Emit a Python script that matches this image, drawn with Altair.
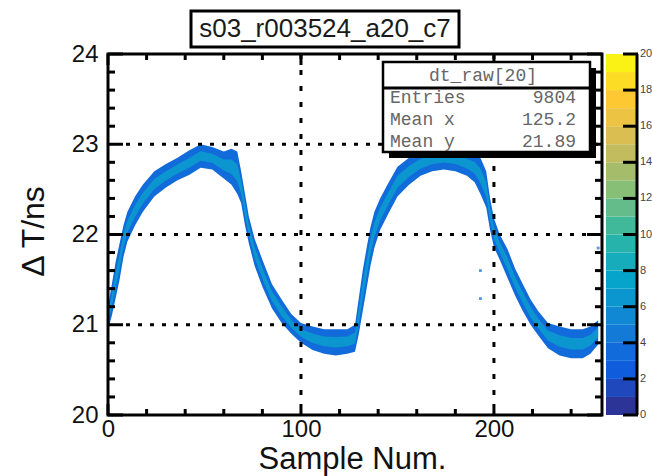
import altair as alt
import pandas as pd

# ---- data ----
sample_x = [0, 2, 4, 6, 8, 10, 14, 18, 24, 30, 36, 42, 48, 54, 60, 64, 67, 69, 71, 73, 76, 80, 85, 90, 95,
            100, 106, 112, 118, 124, 128, 130, 132, 134, 136, 138, 141, 145, 150, 156, 162, 168, 174, 180,
            186, 190, 193, 196, 198, 200, 203, 207, 211, 215, 219, 223, 228, 234, 240, 246, 250, 254]
band_lo = [20.95, 21.1, 21.3, 21.5, 21.75, 21.92, 22.1, 22.25, 22.42, 22.52, 22.6, 22.66, 22.74, 22.72, 22.62,
           22.55, 22.45, 22.35, 22.1, 21.9, 21.65, 21.42, 21.18, 21.02, 20.9,
           20.8, 20.72, 20.68, 20.66, 20.68, 20.7, 20.9, 21.15, 21.4, 21.65, 21.85, 22.05, 22.22, 22.42, 22.55,
           22.65, 22.7, 22.72, 22.7, 22.65, 22.58, 22.45, 22.3, 22.05, 21.86, 21.72, 21.52, 21.32, 21.15, 21.0,
           20.88, 20.74, 20.66, 20.63, 20.63, 20.68, 20.78]
band_hi = [21.2, 21.45, 21.7, 21.9, 22.1, 22.25, 22.42, 22.55, 22.7, 22.78, 22.85, 22.93, 23.0, 22.97, 22.92,
           22.95, 22.92, 22.7, 22.45, 22.2, 21.95, 21.72, 21.45, 21.28, 21.12,
           21.02, 20.98, 20.95, 20.95, 20.95, 21.0, 21.3, 21.6, 21.85, 22.08, 22.25, 22.4, 22.56, 22.75, 22.85,
           22.92, 22.96, 22.98, 22.97, 22.92, 22.9, 22.85, 22.7, 22.4, 22.18, 22.0, 21.84, 21.62, 21.45, 21.28,
           21.15, 21.02, 20.98, 20.95, 20.95, 20.98, 21.05]
stray_x = [193, 193, 254]
stray_y = [21.6, 21.29, 21.85]
count_outer = 3.5
count_core = 6.5

y_major = [20, 21, 22, 23, 24]
y_minor = [20.2, 20.4, 20.6, 20.8, 21.2, 21.4, 21.6, 21.8, 22.2, 22.4, 22.6, 22.8, 23.2, 23.4, 23.6, 23.8]
x_major = [0, 100, 200]
x_minor = [20, 40, 60, 80, 120, 140, 160, 180, 220, 240]
grid_y = [21, 22, 23]
grid_x = [100, 200]
cb_levels = list(range(20))
cb_ticks = [0, 2, 4, 6, 8, 10, 12, 14, 16, 18, 20]
kbird = ["#352a87", "#0f5cdd", "#1481d6", "#06a4ca", "#2eb7a4", "#87bf77", "#d1bb59", "#fec832", "#f9fb0e"]
kbird_stops = [0, 2.5, 5, 7.5, 10, 12.5, 15, 17.5, 20]

title_text = "s03_r003524_a20_c7"
stats_header = "dt_raw[20]"
stats_labels = ["Entries", "Mean x", "Mean y"]
stats_values = ["9804", "125.2", "21.89"]

W, H = 494, 361
FONT = "Liberation Sans"

xs = alt.Scale(domain=[0, 256], nice=False, zero=False)
ys = alt.Scale(domain=[20, 24], nice=False, zero=False)
cs = alt.Scale(domain=kbird_stops, range=kbird, interpolate="rgb")

x_axis = alt.Axis(values=x_major, format="d", ticks=False, tickSize=0, domain=False, grid=False,
                  labelFont=FONT, labelFontSize=24, labelColor="#111", labelPadding=2, labelFlush=False,
                  labelOverlap=False, title="Sample Num.", titleFont=FONT, titleFontSize=31,
                  titleFontWeight="normal", titleColor="#111", titleX=244, titleY=53,
                  titleBaseline="alphabetic", titleAlign="center")
y_axis = alt.Axis(values=y_major, format="d", ticks=False, tickSize=0, domain=False, grid=False,
                  labelFont=FONT, labelFontSize=24, labelColor="#111", labelPadding=10, labelFlush=False,
                  labelOverlap=False, title="Δ T/ns", titleFont=FONT, titleFontSize=32,
                  titleFontWeight="normal", titleColor="#111", titleAngle=270, titleX=-65, titleY=177,
                  titleBaseline="alphabetic", titleAlign="center")


def X(field):
    return alt.X(field, scale=xs, axis=x_axis)


def Y(field):
    return alt.Y(field, scale=ys, axis=y_axis)


band = pd.DataFrame({"x": sample_x, "lo": band_lo, "hi": band_hi})
band["clo"] = band["lo"] + 0.3 * (band["hi"] - band["lo"])
band["chi"] = band["hi"] - 0.3 * (band["hi"] - band["lo"])
band["c_out"] = count_outer
band["c_core"] = count_core

outer = alt.Chart(band).mark_area(interpolate="linear").encode(
    x=X("x:Q"), y=Y("lo:Q"), y2="hi:Q",
    color=alt.Color("c_out:Q", scale=cs, legend=None),
)
core = alt.Chart(band).mark_area(interpolate="linear").encode(
    x=X("x:Q"), y=Y("clo:Q"), y2="chi:Q",
    color=alt.Color("c_core:Q", scale=cs, legend=None),
)
stray_df = pd.DataFrame({"x": stray_x, "y": stray_y, "c": [count_outer] * len(stray_x)})
stray = alt.Chart(stray_df).mark_square(size=8).encode(
    x=X("x:Q"), y=Y("y:Q"),
    color=alt.Color("c:Q", scale=cs, legend=None),
)

# grid (dotted, drawn over the data)
gy = alt.Chart(pd.DataFrame({"g": grid_y})).mark_rule(color="black", strokeWidth=3, strokeDash=[4, 8]).encode(
    y=Y("g:Q"), x=alt.value(18), x2=alt.value(W))
gx = alt.Chart(pd.DataFrame({"g": grid_x})).mark_rule(color="black", strokeWidth=3, strokeDash=[5, 11]).encode(
    x=X("g:Q"), y=alt.value(0), y2=alt.value(H - 12))


def yticks(vals, length):
    d = pd.DataFrame({"t": vals})
    left = alt.Chart(d).mark_rule(color="black", strokeWidth=3).encode(
        y=Y("t:Q"), x=alt.value(0), x2=alt.value(length))
    right = alt.Chart(d).mark_rule(color="black", strokeWidth=3).encode(
        y=Y("t:Q"), x=alt.value(W - length), x2=alt.value(W))
    return [left, right]


def xticks(vals, length):
    d = pd.DataFrame({"t": vals})
    bot = alt.Chart(d).mark_rule(color="black", strokeWidth=3).encode(
        x=X("t:Q"), y=alt.value(H - length), y2=alt.value(H))
    top = alt.Chart(d).mark_rule(color="black", strokeWidth=3).encode(
        x=X("t:Q"), y=alt.value(0), y2=alt.value(length))
    return [bot, top]


ticks = yticks(y_major, 15) + yticks(y_minor, 7) + xticks(x_major, 11) + xticks(x_minor, 6)

one = pd.DataFrame({"a": [0]})
frame = alt.Chart(one).mark_rect(filled=False, stroke="black", strokeWidth=3).encode(
    x=alt.value(0), x2=alt.value(W), y=alt.value(0), y2=alt.value(H))

# colour bar (same colour scale, placed to the right of the frame)
cb = alt.Chart(pd.DataFrame({"k": cb_levels})).transform_calculate(
    lo="20 + datum.k / 5", hi="20 + (datum.k + 1) / 5", c="datum.k + 0.5"
).mark_rect().encode(
    y=Y("lo:Q"), y2="hi:Q",
    x=alt.value(498), x2=alt.value(529),
    color=alt.Color("c:Q", scale=cs, legend=None),
)
cbt_df = pd.DataFrame({"v": cb_ticks})
cb_tick = alt.Chart(cbt_df).transform_calculate(p="20 + datum.v / 5").mark_rule(
    color="black", strokeWidth=3).encode(
    y=Y("p:Q"), x=alt.value(515), x2=alt.value(530))
cb_line = alt.Chart(one).mark_rule(color="black", strokeWidth=3).encode(
    x=alt.value(529), y=alt.value(0), y2=alt.value(H))
cb_lab = alt.Chart(cbt_df).transform_calculate(p="20 + datum.v / 5").mark_text(
    align="left", baseline="middle", font=FONT, fontSize=11, color="#444").encode(
    y=Y("p:Q"), x=alt.value(532), text="v:Q")

# title box
tbox = alt.Chart(one).mark_rect(fill="white", stroke="black", strokeWidth=3).encode(
    x=alt.value(83), x2=alt.value(351), y=alt.value(-43), y2=alt.value(-7))
ttext = alt.Chart(one).mark_text(font=FONT, fontSize=26, color="#1a1a1a", align="center",
                                 baseline="alphabetic").encode(
    x=alt.value(217), y=alt.value(-17), text=alt.value(title_text))

# stats box
sshadow = alt.Chart(one).mark_rect(fill="black").encode(
    x=alt.value(281), x2=alt.value(488), y=alt.value(14), y2=alt.value(104))
sbox = alt.Chart(one).mark_rect(fill="white", stroke="black", strokeWidth=2.5).encode(
    x=alt.value(275), x2=alt.value(482), y=alt.value(8), y2=alt.value(98))
ssep = alt.Chart(one).mark_rule(color="black", strokeWidth=3).encode(
    x=alt.value(275), x2=alt.value(482), y=alt.value(34))
MONO = "Liberation Mono"
shead = alt.Chart(one).mark_text(font=MONO, fontSize=18, color="#666", align="center",
                                 baseline="middle").encode(
    x=alt.value(375), y=alt.value(22), text=alt.value(stats_header))
stats_layers = []
for i, (lab, val) in enumerate(zip(stats_labels, stats_values)):
    yy = 44 + 22 * i
    stats_layers.append(alt.Chart(one).mark_text(font=MONO, fontSize=18, color="#666", align="left",
                                                 baseline="middle").encode(
        x=alt.value(282), y=alt.value(yy), text=alt.value(lab)))
    stats_layers.append(alt.Chart(one).mark_text(font=MONO, fontSize=18, color="#666", align="right",
                                                 baseline="middle").encode(
        x=alt.value(468), y=alt.value(yy), text=alt.value(val)))

chart = alt.layer(
    outer, core, stray, gy, gx, *ticks, frame, cb, cb_tick, cb_line, cb_lab,
    tbox, ttext, sshadow, sbox, ssep, shead, *stats_layers
).properties(
    width=W, height=H,
    autosize=alt.AutoSizeParams(type="none"),
    padding={"left": 108, "top": 54, "right": 50, "bottom": 61},
).configure_view(stroke="transparent")

chart.save("out.html", embed_options={"renderer": "svg", "actions": False})
